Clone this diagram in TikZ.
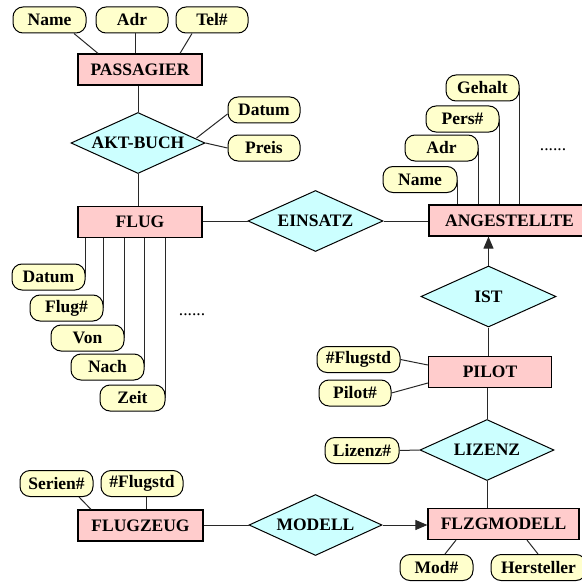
\documentclass[tikz,border=0pt]{standalone}
\usepackage{fontspec}
\setmainfont{Liberation Serif}
\usetikzlibrary{shapes.geometric,arrows.meta,calc}
\definecolor{entfill}{RGB}{255,204,204}
\definecolor{relfill}{RGB}{204,255,255}
\definecolor{attfill}{RGB}{255,255,204}
\definecolor{linecol}{RGB}{40,40,40}
\begin{document}
\begin{tikzpicture}[x=1pt,y=-1pt,
  every node/.style={font=\fontsize{17.5}{20}\selectfont\bfseries, inner sep=0pt},
  ent/.style={draw=black, line width=1.2pt, fill=entfill, minimum height=31pt},
  rel/.style={draw=black, line width=1pt, fill=relfill, diamond, minimum width=134pt, minimum height=61pt, aspect=2.2},
  att/.style={draw=black, line width=1pt, fill=attfill, rounded corners=10pt, minimum height=26pt, minimum width=73pt},
  dotsnode/.style={font=\fontsize{17.5}{20}\selectfont},
  conn/.style={draw=linecol, line width=1pt},
  arr/.style={conn, -{Triangle[length=12pt,width=10pt]}}
]
\useasboundingbox (0,0) rectangle (581,583);

% entities
\node[ent, minimum width=124pt] (pass) at (140,69.5) {PASSAGIER};
\node[ent, minimum width=124pt] (flug) at (140,222) {FLUG};
\node[ent, minimum width=161pt] (ang) at (509.5,220.5) {ANGESTELLTE};
\node[ent, minimum width=123pt] (pilot) at (490,372) {PILOT};
\node[ent, minimum width=125pt] (flzeug) at (140.5,525.5) {FLUGZEUG};
\node[ent, minimum width=151pt] (flzg) at (503.5,524) {FLZGMODELL};

% relationships
\node[rel] (akt) at (138,143) {AKT-BUCH};
\node[rel, minimum width=135pt] (einsatz) at (315.5,221) {EINSATZ};
\node[rel, minimum width=135pt] (ist) at (488.5,296.5) {IST};
\node[rel] (lizenz) at (487,450) {LIZENZ};
\node[rel, minimum width=133pt] (modell) at (315.5,525) {MODELL};

% attributes
\node[att] (name1) at (49.5,20) {Name};
\node[att, minimum width=72pt] (adr1) at (132,20) {Adr};
\node[att, minimum width=72pt] (tel) at (212,20) {Tel\#};
\node[att, minimum width=72pt] (datum1) at (264,110) {Datum};
\node[att, minimum width=72pt] (preis) at (264,148) {Preis};

\node[att] (datum2) at (48.5,277) {Datum};
\node[att] (flugnr) at (66.5,308) {Flug\#};
\node[att] (von) at (87.5,338) {Von};
\node[att] (nach) at (107.5,367) {Nach};
\node[att, minimum width=65pt] (zeit) at (132.5,398) {Zeit};

\node[att, minimum width=74pt] (name2) at (420,179.5) {Name};
\node[att] (adr2) at (441.5,148) {Adr};
\node[att] (pers) at (462.5,119) {Pers\#};
\node[att] (gehalt) at (482.5,88) {Gehalt};

\node[att, minimum width=83pt] (flstd1) at (358.5,359.5) {\#Flugstd};
\node[att, minimum width=72pt] (pilotnr) at (355,393) {Pilot\#};
\node[att, minimum width=74pt] (liznr) at (362,450.5) {Lizenz\#};

\node[att] (serien) at (56.5,483.5) {Serien\#};
\node[att, minimum width=82pt] (flstd2) at (142,483.5) {\#Flugstd};
\node[att] (modnr) at (436.5,567.5) {Mod\#};
\node[att, minimum width=95pt] (herst) at (538.5,567.5) {Hersteller};

\node[dotsnode] (dots1) at (192,315) {......};
\node[dotsnode] (dots2) at (553,150) {......};

% connectors
\draw[conn] ($(name1.south)+(24.5,0)$) -- ($(pass.north)+(-42,0)$);
\draw[conn] ($(adr1.south)+(3,0)$) -- ($(pass.north)+(-5,0)$);
\draw[conn] ($(tel.south)+(-20,0)$) -- ($(pass.north)+(40,0)$);
\draw[conn] (pass.south -| akt.north) -- (akt.north);
\draw[conn] ($(akt.east)+(-9,-5)$) -- ($(datum1.west)+(0,4)$);
\draw[conn] (akt.east) -- (preis.west);
\draw[conn] (akt.south) -- (akt.south |- flug.north);
\draw[conn] (flug.east |- einsatz.west) -- (einsatz.west);
\draw[conn] (einsatz.east) -- (einsatz.east -| ang.west);

\draw[conn] (datum2.east) -- (datum2.east |- flug.south);
\draw[conn] (flugnr.east) -- (flugnr.east |- flug.south);
\draw[conn] (von.east) -- (von.east |- flug.south);
\draw[conn] (nach.east) -- (nach.east |- flug.south);
\draw[conn] (zeit.east) -- (zeit.east |- flug.south);

\draw[conn] (name2.east) -- (name2.east |- ang.north);
\draw[conn] (adr2.east) -- (adr2.east |- ang.north);
\draw[conn] (pers.east) -- (pers.east |- ang.north);
\draw[conn] (gehalt.east) -- (gehalt.east |- ang.north);

\draw[arr] (ist.north) -- (ist.north |- ang.south);
\draw[conn] (ist.south) -- (ist.south |- pilot.north);
\draw[conn] (flstd1.east) -- ($(pilot.west)+(0,-7)$);
\draw[conn] (pilotnr.east) -- ($(pilot.west)+(0,11)$);
\draw[conn] (lizenz.north) -- (lizenz.north |- pilot.south);
\draw[conn] (liznr.east) -- (lizenz.west);
\draw[conn] (lizenz.south) -- (lizenz.south |- flzg.north);

\draw[conn] ($(serien.south)+(22.5,0)$) -- ($(flzeug.north)+(-49.5,0)$);
\draw[conn] ($(flstd2.south)+(4,0)$) -- ($(flzeug.north)+(5.5,0)$);
\draw[conn] (flzeug.east |- modell.west) -- (modell.west);
\draw[arr] (modell.east) -- (modell.east -| flzg.west);
\draw[conn] ($(modnr.north)+(8.5,0)$) -- ($(flzg.south)+(-47.5,0)$);
\draw[conn] ($(herst.north)+(-0.5,0)$) -- ($(flzg.south)+(23.5,0)$);
\end{tikzpicture}
\end{document}
